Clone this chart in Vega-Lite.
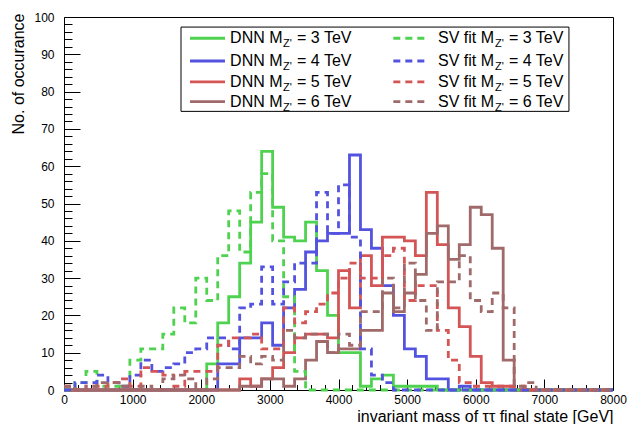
{
"$schema": "https://vega.github.io/schema/vega-lite/v6.json",
"width": 549, "height": 373,
"autosize": {"type": "none"},
"padding": {"left": 64, "top": 17, "right": 17, "bottom": 34},
"background": "white",
"config": {"view": {"stroke": "black", "strokeWidth": 1}, "font": "Liberation Sans"},
"resolve": {"axis": {"x": "independent", "y": "independent"}},
"layer": [
{
"data": {"values": [
{"m":0,"D3":0,"D4":0,"D5":0,"D6":0,"S3":0,"S4":0,"S5":1,"S6":1},
{"m":160,"D3":0,"D4":0,"D5":0,"D6":0,"S3":2,"S4":2,"S5":0,"S6":0},
{"m":320,"D3":0,"D4":0,"D5":0,"D6":0,"S3":5,"S4":2,"S5":1,"S6":1},
{"m":480,"D3":0,"D4":0,"D5":0,"D6":0,"S3":1,"S4":4,"S5":1,"S6":2},
{"m":640,"D3":0,"D4":0,"D5":0,"D6":0,"S3":1,"S4":2,"S5":2,"S6":2},
{"m":800,"D3":0,"D4":0,"D5":0,"D6":0,"S3":1,"S4":1,"S5":3,"S6":1},
{"m":960,"D3":0,"D4":0,"D5":0,"D6":0,"S3":8,"S4":4,"S5":1,"S6":0},
{"m":1120,"D3":0,"D4":0,"D5":0,"D6":0,"S3":11,"S4":8,"S5":6,"S6":1},
{"m":1280,"D3":0,"D4":0,"D5":0,"D6":0,"S3":11,"S4":5,"S5":5,"S6":0},
{"m":1440,"D3":0,"D4":0,"D5":0,"D6":0,"S3":15,"S4":6,"S5":4,"S6":3},
{"m":1600,"D3":0,"D4":0,"D5":0,"D6":0,"S3":22,"S4":7,"S5":1,"S6":4},
{"m":1760,"D3":0,"D4":0,"D5":0,"D6":0,"S3":18,"S4":10,"S5":5,"S6":3},
{"m":1920,"D3":0,"D4":0,"D5":0,"D6":0,"S3":30,"S4":11,"S5":5,"S6":0},
{"m":2080,"D3":7,"D4":0,"D5":0,"D6":0,"S3":24,"S4":14,"S5":5,"S6":3},
{"m":2240,"D3":18,"D4":7,"D5":0,"D6":0,"S3":36,"S4":14,"S5":12,"S6":6},
{"m":2400,"D3":25,"D4":7,"D5":0,"D6":0,"S3":48,"S4":11,"S5":14,"S6":6},
{"m":2560,"D3":34,"D4":14,"D5":3,"D6":1,"S3":37,"S4":22,"S5":14,"S6":9},
{"m":2720,"D3":45,"D4":14,"D5":1,"D6":1,"S3":53,"S4":23,"S5":15,"S6":7},
{"m":2880,"D3":64,"D4":18,"D5":3,"D6":3,"S3":58,"S4":33,"S5":11,"S6":9},
{"m":3040,"D3":49,"D4":12,"D5":6,"D6":3,"S3":40,"S4":23,"S5":11,"S6":8},
{"m":3200,"D3":41,"D4":22,"D5":10,"D6":1,"S3":25,"S4":29,"S5":22,"S6":16},
{"m":3360,"D3":40,"D4":27,"D5":14,"D6":3,"S3":5,"S4":34,"S5":18,"S6":14},
{"m":3520,"D3":45,"D4":37,"D5":15,"D6":8,"S3":0,"S4":34,"S5":21,"S6":15},
{"m":3680,"D3":32,"D4":40,"D5":15,"D6":13,"S3":0,"S4":53,"S5":23,"S6":15},
{"m":3840,"D3":20,"D4":42,"D5":14,"D6":10,"S3":0,"S4":42,"S5":26,"S6":10},
{"m":4000,"D3":10,"D4":42,"D5":32,"D6":11,"S3":0,"S4":55,"S5":30,"S6":15},
{"m":4160,"D3":10,"D4":63,"D5":22,"D6":11,"S3":0,"S4":41,"S5":34,"S6":12},
{"m":4320,"D3":1,"D4":43,"D5":36,"D6":16,"S3":0,"S4":11,"S5":30,"S6":21},
{"m":4480,"D3":3,"D4":38,"D5":28,"D6":16,"S3":0,"S4":4,"S5":30,"S6":21},
{"m":4640,"D3":4,"D4":28,"D5":41,"D6":26,"S3":0,"S4":2,"S5":36,"S6":30},
{"m":4800,"D3":1,"D4":20,"D5":41,"D6":21,"S3":0,"S4":0,"S5":38,"S6":22},
{"m":4960,"D3":1,"D4":11,"D5":40,"D6":26,"S3":0,"S4":0,"S5":24,"S6":34},
{"m":5120,"D3":1,"D4":9,"D5":36,"D6":31,"S3":0,"S4":0,"S5":28,"S6":24},
{"m":5280,"D3":1,"D4":3,"D5":53,"D6":42,"S3":0,"S4":0,"S5":28,"S6":16},
{"m":5440,"D3":0,"D4":3,"D5":39,"D6":44,"S3":0,"S4":0,"S5":16,"S6":29},
{"m":5600,"D3":0,"D4":0,"D5":22,"D6":35,"S3":0,"S4":0,"S5":8,"S6":29},
{"m":5760,"D3":0,"D4":1,"D5":17,"D6":39,"S3":0,"S4":0,"S5":2,"S6":36},
{"m":5920,"D3":0,"D4":0,"D5":9,"D6":49,"S3":0,"S4":0,"S5":1,"S6":24},
{"m":6080,"D3":0,"D4":0,"D5":2,"D6":47,"S3":0,"S4":0,"S5":1,"S6":21},
{"m":6240,"D3":0,"D4":0,"D5":1,"D6":38,"S3":0,"S4":0,"S5":1,"S6":26},
{"m":6400,"D3":0,"D4":0,"D5":1,"D6":8,"S3":0,"S4":0,"S5":1,"S6":22},
{"m":6560,"D3":0,"D4":0,"D5":0,"D6":0,"S3":0,"S4":0,"S5":1,"S6":1},
{"m":6720,"D3":0,"D4":0,"D5":0,"D6":0,"S3":0,"S4":0,"S5":0,"S6":2},
{"m":6880,"D3":0,"D4":0,"D5":0,"D6":0,"S3":0,"S4":0,"S5":0,"S6":0},
{"m":7040,"D3":0,"D4":0,"D5":0,"D6":0,"S3":0,"S4":0,"S5":0,"S6":0},
{"m":7200,"D3":0,"D4":0,"D5":0,"D6":0,"S3":0,"S4":0,"S5":0,"S6":0},
{"m":7360,"D3":0,"D4":0,"D5":0,"D6":0,"S3":0,"S4":0,"S5":0,"S6":0},
{"m":7520,"D3":0,"D4":0,"D5":0,"D6":0,"S3":0,"S4":0,"S5":0,"S6":0},
{"m":7680,"D3":0,"D4":0,"D5":0,"D6":0,"S3":0,"S4":0,"S5":0,"S6":0},
{"m":7840,"D3":0,"D4":0,"D5":0,"D6":0,"S3":0,"S4":0,"S5":0,"S6":0},
{"m":8000,"D3":0,"D4":0,"D5":0,"D6":0,"S3":0,"S4":0,"S5":0,"S6":0}
]},
"transform": [{"fold": ["D3","D4","D5","D6","S3","S4","S5","S6"], "as": ["k","n"]}],
"mark": {"type": "line", "interpolate": "step-after", "strokeWidth": 2.8, "strokeCap": "butt", "strokeJoin": "miter", "clip": false},
"encoding": {
"x": {"field": "m", "type": "quantitative", "scale": {"domain": [0, 8000], "nice": false, "zero": false},
"axis": {"values": [0,200,400,600,800,1000,1200,1400,1600,1800,2000,2200,2400,2600,2800,3000,3200,3400,3600,3800,4000,4200,4400,4600,4800,5000,5200,5400,5600,5800,6000,6200,6400,6600,6800,7000,7200,7400,7600,7800,8000],
"format": "d", "labelExpr": "datum.value % 1000 === 0 ? datum.label : ''",
"tickSize": {"condition": {"test": "datum.value % 1000 === 0", "value": -11}, "value": -5.5},
"tickColor": "black", "tickWidth": 1, "labelPadding": 15, "labelFontSize": 12, "labelFont": "Liberation Sans", "labelColor": "black",
"labelFlush": false, "labelOverlap": false, "grid": false, "domain": false, "orient": "bottom",
"title": "invariant mass of ττ final state [GeV]", "titleFont": "Liberation Sans", "titleFontSize": 16, "titleFontWeight": "normal", "titleColor": "black",
"titleAnchor": "end", "titleAlign": "right", "titleX": 549, "titleY": 31, "titleBaseline": "alphabetic"}},
"y": {"field": "n", "type": "quantitative", "scale": {"domain": [0, 100], "nice": false},
"axis": {"values": [0,2,4,6,8,10,12,14,16,18,20,22,24,26,28,30,32,34,36,38,40,42,44,46,48,50,52,54,56,58,60,62,64,66,68,70,72,74,76,78,80,82,84,86,88,90,92,94,96,98,100],
"format": "d", "labelExpr": "datum.value % 10 === 0 ? datum.label : ''",
"tickSize": {"condition": {"test": "datum.value % 10 === 0", "value": -16}, "value": -8},
"tickColor": "black", "tickWidth": 1, "labelPadding": 26, "labelFontSize": 12, "labelFont": "Liberation Sans", "labelColor": "black",
"labelFlush": false, "labelOverlap": false, "grid": false, "domain": false, "orient": "left",
"title": "No. of occurance", "titleFont": "Liberation Sans", "titleFontSize": 16, "titleFontWeight": "normal", "titleColor": "black",
"titleAnchor": "end", "titleAngle": -90, "titleAlign": "right", "titleBaseline": "middle", "titleX": -46, "titleY": -4}},
"color": {"field": "k", "type": "nominal", "legend": null, "scale": {"domain": ["D3","D4","D5","D6","S3","S4","S5","S6"], "range": ["#4fd24f","#5353e0","#d45555","#a06a6a","#4fd24f","#5353e0","#d45555","#a06a6a"]}},
"strokeDash": {"field": "k", "type": "nominal", "legend": null, "scale": {"domain": ["D3","D4","D5","D6","S3","S4","S5","S6"], "range": [[1,0],[1,0],[1,0],[1,0],[7,5],[7,5],[7,5],[7,5]]}}
}
},
{"data": {"values": [{}]}, "mark": {"type": "rect", "fill": "white", "stroke": "black", "strokeWidth": 1}, "encoding": {"x": {"datum": 1705, "axis": null}, "x2": {"datum": 7358}, "y": {"datum": 97.3, "axis": null}, "y2": {"datum": 74.7}}},

{"data": {"values": [{}]}, "mark": {"type": "rule", "strokeWidth": 2.8, "strokeCap": "butt"}, "encoding": {"x": {"datum": 1836, "axis": null}, "x2": {"datum": 2346}, "y": {"datum": 94.3, "axis": null}, "color": {"datum": "D3", "legend": null}, "strokeDash": {"datum": "D3", "legend": null}}},
{"data": {"values": [{}]}, "mark": {"type": "rule", "strokeWidth": 2.8, "strokeCap": "butt"}, "encoding": {"x": {"datum": 1836, "axis": null}, "x2": {"datum": 2346}, "y": {"datum": 88.2, "axis": null}, "color": {"datum": "D4", "legend": null}, "strokeDash": {"datum": "D4", "legend": null}}},
{"data": {"values": [{}]}, "mark": {"type": "rule", "strokeWidth": 2.8, "strokeCap": "butt"}, "encoding": {"x": {"datum": 1836, "axis": null}, "x2": {"datum": 2346}, "y": {"datum": 82.6, "axis": null}, "color": {"datum": "D5", "legend": null}, "strokeDash": {"datum": "D5", "legend": null}}},
{"data": {"values": [{}]}, "mark": {"type": "rule", "strokeWidth": 2.8, "strokeCap": "butt"}, "encoding": {"x": {"datum": 1836, "axis": null}, "x2": {"datum": 2346}, "y": {"datum": 77.3, "axis": null}, "color": {"datum": "D6", "legend": null}, "strokeDash": {"datum": "D6", "legend": null}}},
{"data": {"values": [{}]}, "mark": {"type": "rule", "strokeWidth": 2.8, "strokeCap": "butt"}, "encoding": {"x": {"datum": 4799, "axis": null}, "x2": {"datum": 5261}, "y": {"datum": 94.3, "axis": null}, "color": {"datum": "S3", "legend": null}, "strokeDash": {"datum": "S3", "legend": null}}},
{"data": {"values": [{}]}, "mark": {"type": "rule", "strokeWidth": 2.8, "strokeCap": "butt"}, "encoding": {"x": {"datum": 4799, "axis": null}, "x2": {"datum": 5261}, "y": {"datum": 88.2, "axis": null}, "color": {"datum": "S4", "legend": null}, "strokeDash": {"datum": "S4", "legend": null}}},
{"data": {"values": [{}]}, "mark": {"type": "rule", "strokeWidth": 2.8, "strokeCap": "butt"}, "encoding": {"x": {"datum": 4799, "axis": null}, "x2": {"datum": 5261}, "y": {"datum": 82.6, "axis": null}, "color": {"datum": "S5", "legend": null}, "strokeDash": {"datum": "S5", "legend": null}}},
{"data": {"values": [{}]}, "mark": {"type": "rule", "strokeWidth": 2.8, "strokeCap": "butt"}, "encoding": {"x": {"datum": 4799, "axis": null}, "x2": {"datum": 5261}, "y": {"datum": 77.3, "axis": null}, "color": {"datum": "S6", "legend": null}, "strokeDash": {"datum": "S6", "legend": null}}},

{"data": {"values": [{}]}, "mark": {"type": "text", "align": "left", "baseline": "middle", "fontSize": 16, "fill": "black"}, "encoding": {"x": {"datum": 2420, "axis": null}, "y": {"datum": 94.3, "axis": null}, "text": {"value": "DNN M"}}},
{"data": {"values": [{}]}, "mark": {"type": "text", "align": "left", "baseline": "middle", "fontSize": 16, "fill": "black"}, "encoding": {"x": {"datum": 2420, "axis": null}, "y": {"datum": 88.2, "axis": null}, "text": {"value": "DNN M"}}},
{"data": {"values": [{}]}, "mark": {"type": "text", "align": "left", "baseline": "middle", "fontSize": 16, "fill": "black"}, "encoding": {"x": {"datum": 2420, "axis": null}, "y": {"datum": 82.6, "axis": null}, "text": {"value": "DNN M"}}},
{"data": {"values": [{}]}, "mark": {"type": "text", "align": "left", "baseline": "middle", "fontSize": 16, "fill": "black"}, "encoding": {"x": {"datum": 2420, "axis": null}, "y": {"datum": 77.3, "axis": null}, "text": {"value": "DNN M"}}},
{"data": {"values": [{}]}, "mark": {"type": "text", "align": "left", "baseline": "middle", "fontSize": 11, "fill": "black", "dx": 53, "dy": 6}, "encoding": {"x": {"datum": 2420, "axis": null}, "y": {"datum": 94.3, "axis": null}, "text": {"value": "Z'"}}},
{"data": {"values": [{}]}, "mark": {"type": "text", "align": "left", "baseline": "middle", "fontSize": 11, "fill": "black", "dx": 53, "dy": 6}, "encoding": {"x": {"datum": 2420, "axis": null}, "y": {"datum": 88.2, "axis": null}, "text": {"value": "Z'"}}},
{"data": {"values": [{}]}, "mark": {"type": "text", "align": "left", "baseline": "middle", "fontSize": 11, "fill": "black", "dx": 53, "dy": 6}, "encoding": {"x": {"datum": 2420, "axis": null}, "y": {"datum": 82.6, "axis": null}, "text": {"value": "Z'"}}},
{"data": {"values": [{}]}, "mark": {"type": "text", "align": "left", "baseline": "middle", "fontSize": 11, "fill": "black", "dx": 53, "dy": 6}, "encoding": {"x": {"datum": 2420, "axis": null}, "y": {"datum": 77.3, "axis": null}, "text": {"value": "Z'"}}},
{"data": {"values": [{}]}, "mark": {"type": "text", "align": "left", "baseline": "middle", "fontSize": 16, "fill": "black", "dx": 67}, "encoding": {"x": {"datum": 2420, "axis": null}, "y": {"datum": 94.3, "axis": null}, "text": {"value": "= 3 TeV"}}},
{"data": {"values": [{}]}, "mark": {"type": "text", "align": "left", "baseline": "middle", "fontSize": 16, "fill": "black", "dx": 67}, "encoding": {"x": {"datum": 2420, "axis": null}, "y": {"datum": 88.2, "axis": null}, "text": {"value": "= 4 TeV"}}},
{"data": {"values": [{}]}, "mark": {"type": "text", "align": "left", "baseline": "middle", "fontSize": 16, "fill": "black", "dx": 67}, "encoding": {"x": {"datum": 2420, "axis": null}, "y": {"datum": 82.6, "axis": null}, "text": {"value": "= 5 TeV"}}},
{"data": {"values": [{}]}, "mark": {"type": "text", "align": "left", "baseline": "middle", "fontSize": 16, "fill": "black", "dx": 67}, "encoding": {"x": {"datum": 2420, "axis": null}, "y": {"datum": 77.3, "axis": null}, "text": {"value": "= 6 TeV"}}},

{"data": {"values": [{}]}, "mark": {"type": "text", "align": "left", "baseline": "middle", "fontSize": 16, "fill": "black"}, "encoding": {"x": {"datum": 5450, "axis": null}, "y": {"datum": 94.3, "axis": null}, "text": {"value": "SV fit M"}}},
{"data": {"values": [{}]}, "mark": {"type": "text", "align": "left", "baseline": "middle", "fontSize": 16, "fill": "black"}, "encoding": {"x": {"datum": 5450, "axis": null}, "y": {"datum": 88.2, "axis": null}, "text": {"value": "SV fit M"}}},
{"data": {"values": [{}]}, "mark": {"type": "text", "align": "left", "baseline": "middle", "fontSize": 16, "fill": "black"}, "encoding": {"x": {"datum": 5450, "axis": null}, "y": {"datum": 82.6, "axis": null}, "text": {"value": "SV fit M"}}},
{"data": {"values": [{}]}, "mark": {"type": "text", "align": "left", "baseline": "middle", "fontSize": 16, "fill": "black"}, "encoding": {"x": {"datum": 5450, "axis": null}, "y": {"datum": 77.3, "axis": null}, "text": {"value": "SV fit M"}}},
{"data": {"values": [{}]}, "mark": {"type": "text", "align": "left", "baseline": "middle", "fontSize": 11, "fill": "black", "dx": 57, "dy": 6}, "encoding": {"x": {"datum": 5450, "axis": null}, "y": {"datum": 94.3, "axis": null}, "text": {"value": "Z'"}}},
{"data": {"values": [{}]}, "mark": {"type": "text", "align": "left", "baseline": "middle", "fontSize": 11, "fill": "black", "dx": 57, "dy": 6}, "encoding": {"x": {"datum": 5450, "axis": null}, "y": {"datum": 88.2, "axis": null}, "text": {"value": "Z'"}}},
{"data": {"values": [{}]}, "mark": {"type": "text", "align": "left", "baseline": "middle", "fontSize": 11, "fill": "black", "dx": 57, "dy": 6}, "encoding": {"x": {"datum": 5450, "axis": null}, "y": {"datum": 82.6, "axis": null}, "text": {"value": "Z'"}}},
{"data": {"values": [{}]}, "mark": {"type": "text", "align": "left", "baseline": "middle", "fontSize": 11, "fill": "black", "dx": 57, "dy": 6}, "encoding": {"x": {"datum": 5450, "axis": null}, "y": {"datum": 77.3, "axis": null}, "text": {"value": "Z'"}}},
{"data": {"values": [{}]}, "mark": {"type": "text", "align": "left", "baseline": "middle", "fontSize": 16, "fill": "black", "dx": 71}, "encoding": {"x": {"datum": 5450, "axis": null}, "y": {"datum": 94.3, "axis": null}, "text": {"value": "= 3 TeV"}}},
{"data": {"values": [{}]}, "mark": {"type": "text", "align": "left", "baseline": "middle", "fontSize": 16, "fill": "black", "dx": 71}, "encoding": {"x": {"datum": 5450, "axis": null}, "y": {"datum": 88.2, "axis": null}, "text": {"value": "= 4 TeV"}}},
{"data": {"values": [{}]}, "mark": {"type": "text", "align": "left", "baseline": "middle", "fontSize": 16, "fill": "black", "dx": 71}, "encoding": {"x": {"datum": 5450, "axis": null}, "y": {"datum": 82.6, "axis": null}, "text": {"value": "= 5 TeV"}}},
{"data": {"values": [{}]}, "mark": {"type": "text", "align": "left", "baseline": "middle", "fontSize": 16, "fill": "black", "dx": 71}, "encoding": {"x": {"datum": 5450, "axis": null}, "y": {"datum": 77.3, "axis": null}, "text": {"value": "= 6 TeV"}}}
]
}
